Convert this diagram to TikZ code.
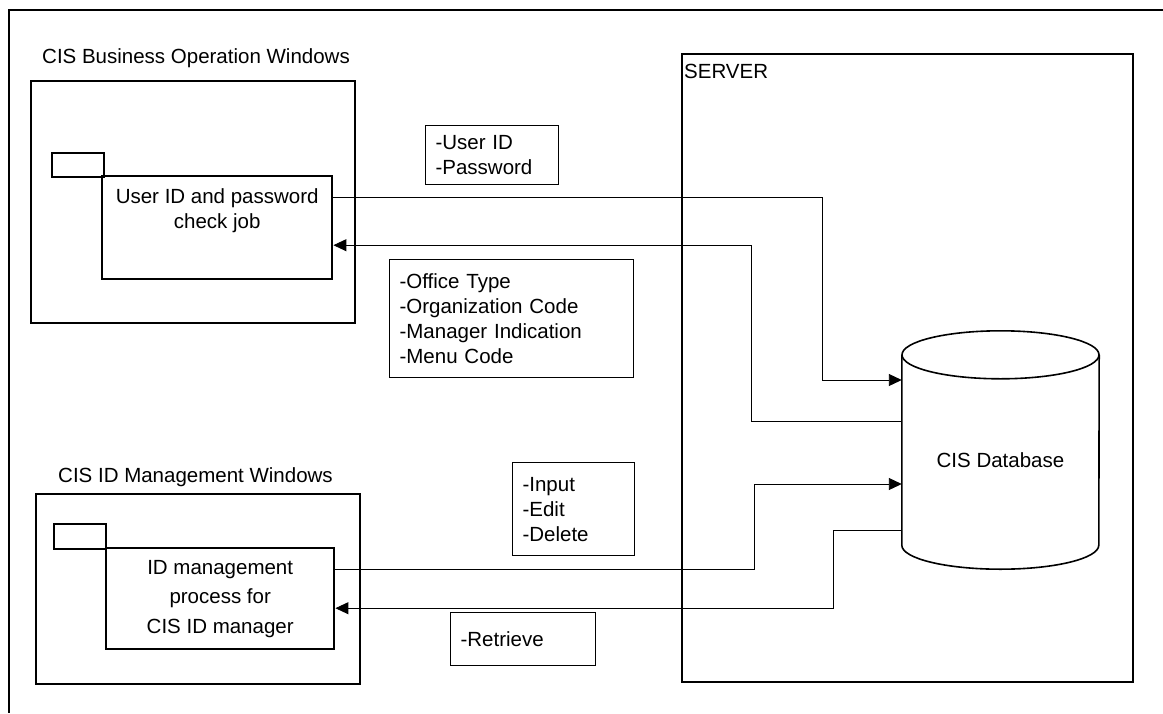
\documentclass[tikz,border=0pt]{standalone}
\usepackage{fontspec}
\setmainfont{Liberation Sans}
\usepackage{tikz}
\usetikzlibrary{positioning, arrows.meta}

\begin{document}
\begin{tikzpicture}[
  x=1pt, y=-1pt,
  font=\fontsize{20.5}{25}\selectfont,
  frame/.style={line width=1.3pt},
  winbox/.style={draw, line width=1.6pt, anchor=north west, inner sep=0pt},
  procbox/.style={draw, line width=2.4pt, anchor=north west, inner sep=0pt, align=center},
  tabbox/.style={draw, line width=2pt, anchor=north west, inner sep=0pt, minimum width=52pt, minimum height=24pt},
  lbl/.style={draw, line width=1.1pt, anchor=north west, align=left, inner xsep=10pt, inner ysep=0pt},
  wintitle/.style={anchor=base west, inner sep=0pt},
  dbline/.style={line width=1.6pt},
  arr/.style={-{Triangle[length=13pt, width=12pt]}, line width=0.9pt}
]
\useasboundingbox (0,0) rectangle (1163,713);
\draw[frame] (1163,10) -| (9,713);

\node[winbox, minimum width=324pt, minimum height=242pt] (bizwin) at (30,80) {};
\node[wintitle] (biztitle) at (42,63) {CIS Business Operation Windows};
\node[tabbox] (biztab) at (51,152) {};
\node[procbox, minimum width=230pt, minimum height=103pt] (bizjob) at (101,175) {};
\node[align=center, inner sep=0pt, below=13pt of bizjob.north] (bizjobtext) {User ID and password\\check job};

\node[winbox, minimum width=324pt, minimum height=190pt] (mgrwin) at (35,493) {};
\node[wintitle] (mgrtitle) at (58,482) {CIS ID Management Windows};
\node[tabbox, minimum height=25pt] (mgrtab) at (53,523) {};
\node[procbox, minimum width=228pt, minimum height=101pt, font=\fontsize{20.5}{29.5}\selectfont] (mgrjob) at (105,547) {ID management\\process for\\CIS ID manager};

\node[winbox, line width=2pt, minimum width=451pt, minimum height=628pt] (server) at (681,53) {};
\node[wintitle] (servertitle) at (684,78) {SERVER};

\node[minimum width=197pt, minimum height=190pt, inner sep=0pt] (db) at (1000.5,450) {};
\draw[dbline] (db.north west) -- (db.south west) arc[start angle=180, end angle=360, x radius=98.5pt, y radius=24pt] -- (db.north east);
\draw[dbline] (db.north) ellipse[x radius=98.5pt, y radius=24pt];
\node[inner sep=0pt] (dbtext) at ([yshift=-10pt]db.center) {CIS Database};

\node[lbl, text width=113pt, minimum height=59pt] (login) at (425,125) {-User ID\\-Password};
\node[lbl, text width=224pt, minimum height=118pt] (office) at (389,259) {-Office Type\\-Organization Code\\-Manager Indication\\-Menu Code};
\node[lbl, text width=102pt, minimum height=93pt] (edit) at (512,462) {-Input\\-Edit\\-Delete};
\node[lbl, text width=125pt, minimum height=53pt] (retrieve) at (450,612) {-Retrieve};

\draw[arr] ([yshift=30.5pt]bizjob.east) -- ++(489,0) |- ([yshift=70pt]db.west);
\draw[arr] ([yshift=29pt]db.west) -- ++(-150,0) |- ([yshift=-17.5pt]bizjob.east);
\draw[arr] ([yshift=29.5pt]mgrjob.east) -- ++(419,0) |- ([yshift=-34pt]db.west);
\draw[arr] ([yshift=-80pt]db.west) -- ++(-68,0) |- ([yshift=-9.5pt]mgrjob.east);
\end{tikzpicture}
\end{document}
